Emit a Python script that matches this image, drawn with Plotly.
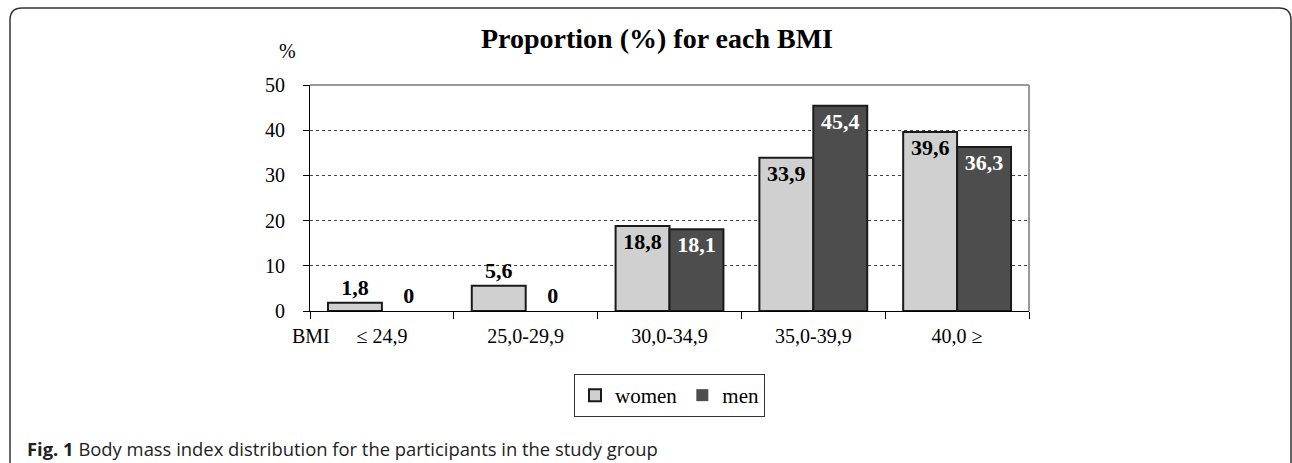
import plotly.graph_objects as go

categories = ["≤ 24,9", "25,0-29,9", "30,0-34,9", "35,0-39,9", "40,0 ≥"]
women = [1.8, 5.6, 18.8, 33.9, 39.6]
men = [0, 0, 18.1, 45.4, 36.3]
women_labels = ["1,8", "5,6", "18,8", "33,9", "39,6"]
men_labels = ["0", "0", "18,1", "45,4", "36,3"]

W, H = 1292, 463
L, R, T, B = 310, 1029, 85, 311

def px(x):
    return (x - L) / (R - L)

def py(y):
    return (B - y) / (B - T)

serif = "Liberation Serif, Times New Roman, serif"

fig = go.Figure()
pos_w = ["outside" if v < 10 else "inside" for v in women]
pos_m = ["outside" if v < 10 else "inside" for v in men]
fig.add_trace(go.Bar(
    x=categories, y=women, name="women", text=women_labels,
    textposition=pos_w, insidetextanchor="end", constraintext="none",
    textfont=dict(family=serif, size=22, color="black"),
    marker=dict(color="#d0d0d0", line=dict(color="#1a1a1a", width=2)),
    cliponaxis=False,
))
fig.add_trace(go.Bar(
    x=categories, y=men, name="men", text=men_labels,
    textposition=pos_m, insidetextanchor="end", constraintext="none",
    textfont=dict(family=serif, size=22,
                  color=["black" if p == "outside" else "white" for p in pos_m]),
    marker=dict(color="#4d4d4d",
                line=dict(color="#1a1a1a", width=[0 if v == 0 else 2 for v in men])),
    cliponaxis=False,
))
fig.update_traces(texttemplate="<b>%{text}</b>")

fig.update_layout(
    width=W, height=H,
    margin=dict(l=L, r=W - R, t=T, b=H - B),
    paper_bgcolor="white", plot_bgcolor="white",
    barmode="group", bargap=0.25, bargroupgap=0,
    title=dict(text="<b>Proportion (%) for each BMI</b>",
               font=dict(family=serif, size=28, color="black"),
               x=657 / W, xanchor="center", y=1 - 38 / H, yanchor="middle",
               xref="container", yref="container"),
    font=dict(family=serif, color="black"),
    showlegend=True,
    legend=dict(orientation="h", x=0.5, xanchor="center", y=py(374), yanchor="top",
                bordercolor="#333", borderwidth=1, bgcolor="white",
                font=dict(family=serif, size=21, color="black"),
                itemwidth=30, traceorder="normal"),
)
fig.update_yaxes(range=[0, 50], dtick=10, showgrid=True, gridcolor="#444",
                 griddash="dot", gridwidth=1, showline=True, linecolor="black",
                 linewidth=1, ticks="outside", ticklen=6, tickcolor="black",
                 ticklabelstandoff=14,
                 tickfont=dict(family=serif, size=20, color="black"), zeroline=False)
fig.update_xaxes(showline=True, linecolor="black", linewidth=1, ticks="outside",
                 tickson="boundaries", ticklen=7, tickcolor="black",
                 ticklabelstandoff=7,
                 tickfont=dict(family=serif, size=20, color="black"))

# gray top and right border of the plot area
fig.add_shape(type="line", xref="paper", yref="paper", x0=0, x1=1, y0=1, y1=1,
              line=dict(color="#999", width=2))
fig.add_shape(type="line", xref="paper", yref="paper", x0=1, x1=1, y0=0, y1=1,
              line=dict(color="#999", width=2))

# outer rounded frame
x0, y0, x1, y1, r = px(10), py(8), px(1291), py(470), 12
rx, ry = r / (R - L), r / (B - T)
path = (f"M {x0},{y1} L {x0},{y0 - ry} Q {x0},{y0} {x0 + rx},{y0} "
        f"L {x1 - rx},{y0} Q {x1},{y0} {x1},{y0 - ry} L {x1},{y1}")
fig.add_shape(type="path", xref="paper", yref="paper", path=path,
              line=dict(color="#333", width=1.5))

fig.add_annotation(text="%", xref="paper", yref="paper", x=px(287), y=py(51),
                   xanchor="center", yanchor="middle",
                   showarrow=False, font=dict(family=serif, size=20, color="black"))
fig.add_annotation(text="BMI", xref="paper", yref="paper", x=px(311), y=py(336),
                   xanchor="center", yanchor="middle",
                   showarrow=False, font=dict(family=serif, size=20, color="black"))
fig.add_annotation(text="<b>Fig. 1</b> Body mass index distribution for the participants in the study group",
                   xref="paper", yref="paper", x=px(25), y=py(449), xanchor="left",
                   yanchor="middle", showarrow=False,
                   font=dict(family="Open Sans, sans-serif", size=18.4, color="#222"))

fig.write_html("out.html", config={"displayModeBar": False},
               post_script="document.body.style.margin='0';document.body.style.overflow='hidden';")
